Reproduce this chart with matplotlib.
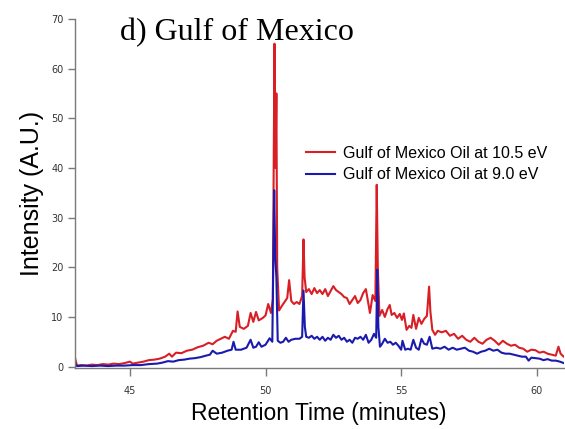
"""Chromatogram of Gulf of Mexico oil at two photon energies."""

import matplotlib
matplotlib.use('Agg')
import matplotlib.pyplot as plt

# Red trace: 10.5 eV (retention time in minutes, intensity in A.U.)
red_time = [
    42.98, 43.0, 43.05, 43.2, 43.4, 43.6, 43.8, 44.0, 44.2, 44.4,
    44.6, 44.8, 45.0, 45.1, 45.3, 45.5, 45.7, 45.9, 46.1, 46.3,
    46.45, 46.55, 46.7, 46.9, 47.1, 47.3, 47.5, 47.7, 47.9, 48.05,
    48.2, 48.35, 48.5, 48.65, 48.8, 48.9, 48.97, 49.05, 49.2, 49.35,
    49.45, 49.55, 49.65, 49.75, 49.9, 50.0, 50.1, 50.2, 50.27, 50.33,
    50.37, 50.4, 50.43, 50.5, 50.6, 50.7, 50.8, 50.87, 50.95, 51.05,
    51.15, 51.25, 51.35, 51.4, 51.44, 51.5, 51.6, 51.7, 51.8, 51.9,
    52.0, 52.1, 52.2, 52.3, 52.4, 52.5, 52.6, 52.7, 52.8, 52.9,
    53.0, 53.1, 53.2, 53.3, 53.4, 53.5, 53.6, 53.7, 53.78, 53.85,
    53.95, 54.05, 54.1, 54.14, 54.2, 54.3, 54.4, 54.5, 54.58, 54.65,
    54.75, 54.85, 54.95, 55.03, 55.1, 55.2, 55.3, 55.38, 55.45, 55.55,
    55.65, 55.75, 55.85, 55.95, 56.03, 56.08, 56.15, 56.25, 56.35, 56.5,
    56.65, 56.8, 56.95, 57.1, 57.25, 57.4, 57.55, 57.7, 57.85, 58.0,
    58.15, 58.3, 58.45, 58.6, 58.75, 58.9, 59.05, 59.2, 59.35, 59.5,
    59.65, 59.8, 59.95, 60.1, 60.25, 60.4, 60.55, 60.7, 60.8, 60.88,
    60.95, 61.05,
]
red_int = [
    1.7, 1.2, 0.2, 0.3, 0.2, 0.4, 0.3, 0.5, 0.4, 0.6,
    0.5, 0.7, 1.0, 0.6, 0.8, 1.0, 1.3, 1.4, 1.6, 2.0,
    2.6, 2.0, 2.8, 2.7, 3.2, 3.4, 3.9, 4.2, 4.8, 4.5,
    5.2, 5.6, 6.0, 5.6, 7.2, 7.0, 11.1, 8.0, 7.6, 8.2,
    10.8, 9.0, 11.0, 9.3, 9.8, 10.3, 12.6, 10.8, 13.5, 65.0,
    40.0, 55.0, 20.0, 11.3, 12.2, 13.0, 13.8, 17.4, 13.2, 12.6,
    13.0, 12.6, 14.2, 25.6, 18.0, 15.0, 15.6, 14.6, 15.8, 14.8,
    15.4, 14.6, 15.6, 14.2, 15.2, 16.2, 15.4, 15.0, 14.6, 14.0,
    13.8, 12.6, 13.4, 14.2, 12.8, 13.4, 14.8, 15.6, 13.0, 10.8,
    14.4, 13.2, 36.6, 20.0, 10.2, 11.4, 10.0, 11.6, 12.4, 10.4,
    10.8, 9.8, 10.6, 9.4, 10.7, 7.4, 8.2, 7.8, 10.4, 7.6,
    9.8, 8.6, 9.6, 10.2, 16.1, 11.0, 7.4, 6.4, 7.2, 6.9,
    7.2, 6.2, 6.6, 5.6, 6.2, 5.4, 5.0, 5.8, 5.0, 4.6,
    5.4, 5.8, 5.2, 4.4, 5.2, 4.6, 4.2, 4.4, 3.8, 3.6,
    3.0, 3.4, 3.3, 2.8, 3.0, 2.6, 2.4, 2.2, 4.0, 2.6,
    2.2, 1.8,
]

# Blue trace: 9.0 eV
blue_time = [
    42.98, 43.05, 43.3, 43.6, 43.9, 44.2, 44.5, 44.8, 45.1, 45.4,
    45.7, 46.0, 46.2, 46.4, 46.6, 46.8, 47.0, 47.2, 47.4, 47.6,
    47.8, 47.95, 48.05, 48.2, 48.4, 48.6, 48.75, 48.82, 48.9, 49.1,
    49.3, 49.45, 49.55, 49.65, 49.75, 49.85, 50.0, 50.15, 50.25, 50.32,
    50.36, 50.4, 50.45, 50.55, 50.65, 50.75, 50.85, 50.95, 51.1, 51.25,
    51.35, 51.4, 51.45, 51.5, 51.6, 51.7, 51.8, 51.9, 52.0, 52.1,
    52.2, 52.3, 52.4, 52.5, 52.6, 52.7, 52.8, 52.9, 53.0, 53.1,
    53.2, 53.3, 53.4, 53.5, 53.6, 53.7, 53.8, 53.9, 54.0, 54.08,
    54.12, 54.16, 54.22, 54.3, 54.4, 54.5, 54.6, 54.7, 54.8, 54.9,
    55.0, 55.05, 55.15, 55.25, 55.35, 55.45, 55.55, 55.65, 55.75, 55.85,
    55.95, 56.05, 56.15, 56.3, 56.45, 56.6, 56.75, 56.9, 57.05, 57.2,
    57.35, 57.5, 57.65, 57.8, 57.95, 58.1, 58.25, 58.4, 58.55, 58.7,
    58.85, 59.0, 59.15, 59.3, 59.45, 59.6, 59.7, 59.8, 59.95, 60.1,
    60.25, 60.4, 60.55, 60.7, 60.85, 60.95, 61.05,
]
blue_int = [
    0.6, 0.1, 0.2, 0.1, 0.2, 0.1, 0.2, 0.2, 0.3, 0.3,
    0.5, 0.6, 0.8, 1.1, 1.0, 1.3, 1.4, 1.6, 1.7, 1.9,
    2.2, 2.4, 3.2, 2.6, 2.8, 3.2, 3.4, 5.0, 3.4, 3.4,
    3.8, 5.4, 3.8, 4.0, 4.9, 4.0, 4.4, 5.7, 5.0, 35.5,
    22.0, 18.0, 5.2, 4.8, 5.0, 5.8, 5.0, 5.4, 5.6, 5.6,
    6.0, 15.3, 8.0, 6.0, 5.8, 6.2, 5.6, 6.0, 5.4, 6.0,
    5.2, 5.8, 5.4, 6.4, 5.8, 6.2, 5.4, 5.8, 5.0, 5.4,
    4.8, 5.8, 5.6, 6.0, 5.4, 6.4, 4.8, 5.4, 6.6, 5.8,
    19.5, 8.0, 4.0, 4.6, 5.6, 4.8, 5.0, 4.4, 4.8, 4.2,
    3.4, 5.2, 3.4, 3.6, 3.4, 5.4, 3.8, 3.4, 5.6, 4.6,
    4.4, 6.0, 3.6, 3.8, 3.6, 4.0, 3.4, 3.8, 3.4, 3.6,
    3.8, 3.2, 3.0, 2.6, 3.0, 3.2, 3.6, 3.2, 3.4, 2.8,
    2.6, 2.6, 2.4, 2.2, 2.0, 2.0, 1.2, 1.8, 1.7, 1.6,
    1.3, 1.5, 1.2, 1.2, 1.0, 0.8, 0.6,
]

x_ticks = [45, 50, 55, 60]
y_ticks = [0, 10, 20, 30, 40, 50, 60, 70]

fig = plt.figure(figsize=(5.65, 4.29), dpi=100)
ax = fig.add_axes([0.132, 0.142, 0.866, 0.814])

ax.plot(red_time, red_int, color='#d81f26', linewidth=1.5,
        label='Gulf of Mexico Oil at 10.5 eV')
ax.plot(blue_time, blue_int, color='#1a1aae', linewidth=1.5,
        label='Gulf of Mexico Oil at 9.0 eV')

ax.set_xlim(42.96, 61.0)
ax.set_ylim(-0.3, 70)
ax.set_xticks(x_ticks)
ax.set_yticks(y_ticks)

for side in ['top', 'right']:
    ax.spines[side].set_visible(False)
for side in ['left', 'bottom']:
    ax.spines[side].set_color('#7a7a7a')
    ax.spines[side].set_linewidth(1.0)

ax.tick_params(axis='x', length=6, width=1, color='#7a7a7a',
               labelsize=7, labelcolor='#333333', pad=7)
ax.tick_params(axis='y', length=5, width=1, color='#7a7a7a',
               labelsize=7, labelcolor='#333333', pad=3)

ax.set_xlabel('Retention Time (minutes)', fontsize=16.5,
              family='Liberation Sans', labelpad=4)
ax.set_ylabel('Intensity (A.U.)', fontsize=18,
              family='Liberation Sans', labelpad=5)

fig.text(0.212, 0.906, 'd) Gulf of Mexico', fontsize=23,
         family='Liberation Serif', ha='left', va='baseline')

ax.legend(loc='upper left', bbox_to_anchor=(0.542, 0.66),
          bbox_transform=fig.transFigure, frameon=False,
          prop={'family': 'Liberation Sans', 'size': 11.5},
          handlelength=1.8, handletextpad=0.5, labelspacing=0.4,
          borderaxespad=0, borderpad=0)

fig.savefig('out.png', dpi=100)
